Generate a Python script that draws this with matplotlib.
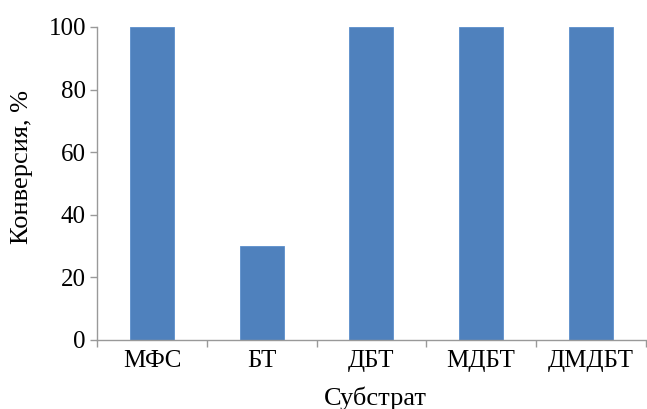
import matplotlib.pyplot as plt
import numpy as np

# Данные
substraty = ['МФС', 'БТ', 'ДБТ', 'МДБТ', 'ДМДБТ']
konversiya = [100, 30, 100, 100, 100]
y_ticks = [0, 20, 40, 60, 80, 100]

plt.rcParams['font.family'] = ['Liberation Serif', 'DejaVu Serif']

fig = plt.figure(figsize=(6.47, 4.09), dpi=100)
ax = fig.add_axes([0.150, 0.169, 0.848, 0.765])

x = np.arange(len(substraty))
ax.bar(x, konversiya, width=0.4, color='#4F81BD', edgecolor='#5B8FCC', linewidth=0.6)

ax.set_xlim(-0.5, len(substraty) - 0.5)
ax.set_ylim(0, 100)
ax.set_yticks(y_ticks)
ax.tick_params(axis='y', labelsize=18, direction='out', length=5, width=1,
               color='#999999', pad=3)

# подписи по центру категорий, штрихи между категориями
ax.set_xticks(x)
ax.set_xticklabels(substraty)
ax.set_xticks(np.arange(-0.5, len(substraty)), minor=True)
ax.tick_params(axis='x', which='major', length=0, labelsize=18, pad=7)
ax.tick_params(axis='x', which='minor', length=5, width=1, color='#999999',
               direction='out')

for side in ['top', 'right']:
    ax.spines[side].set_visible(False)
for side in ['left', 'bottom']:
    ax.spines[side].set_color('#999999')
    ax.spines[side].set_linewidth(1)

ax.set_xlabel('Субстрат', fontsize=19)
ax.xaxis.label.set_va('baseline')
ax.xaxis.set_label_coords(0.507, -0.208)

ax.set_ylabel('Конверсия, %', fontsize=19)
ax.yaxis.label.set_va('center')
ax.yaxis.set_label_coords(-0.136, 0.553)

plt.savefig('out.png', dpi=100)
plt.close()
